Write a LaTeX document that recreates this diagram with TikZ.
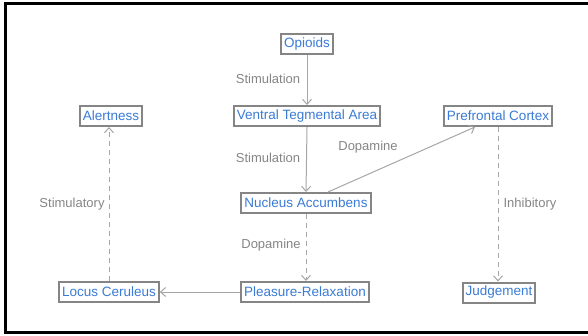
\documentclass[tikz,border=0pt]{standalone}
\usepackage{fontspec}
\setmainfont{Liberation Sans}
\usetikzlibrary{arrows.meta,calc}
\definecolor{nodeblue}{HTML}{3A7BD5}
\definecolor{boxgray}{HTML}{858585}
\definecolor{edgegray}{HTML}{A6A6A6}
\definecolor{labelgray}{HTML}{858585}
\tikzset{
  concept/.style={draw=boxgray, line width=2pt, fill=white, text=nodeblue,
    font=\fontsize{13.5}{15}\selectfont, inner xsep=3pt, inner ysep=2pt,
    minimum height=20pt},
  link/.style={draw=edgegray, line width=1pt, -{Straight Barb[length=5pt,width=9pt]}},
  dlink/.style={link, dash pattern=on 5pt off 4pt},
  lbl/.style={text=labelgray, font=\fontsize{13}{15}\selectfont, inner sep=0pt}
}
\begin{document}
\begin{tikzpicture}[x=1pt,y=-1pt]
\useasboundingbox (0,0) rectangle (588,335);
\begin{scope}
\clip (0,0) rectangle (588,335);
\draw[line width=3pt, black] (5.5,3) rectangle (600,332.5);
\end{scope}
\node[concept] (op) at (307,44) {Opioids};
\node[concept] (vta) at (307,116) {Ventral Tegmental Area};
\node[concept] (al) at (111,116) {Alertness};
\node[concept] (pc) at (498,116) {Prefrontal Cortex};
\node[concept] (na) at (306,203) {Nucleus Accumbens};
\node[concept] (pr) at (305,292) {Pleasure-Relaxation};
\node[concept] (lc) at (109,292) {Locus Ceruleus};
\node[concept] (ju) at (499,292.5) {Judgement};

\draw[link] (op.south) -- (vta.north);
\draw[link] (vta.south) -- (na.north);
\draw[link] ([xshift=22pt]na.north) -- ([xshift=-23pt]pc.south);
\draw[dlink] (na.south) -- (na.south |- pr.north);
\draw[dlink] (pc.south) -- (pc.south |- ju.north);
\draw[link] (pr.west) -- (lc.east);
\draw[dlink] (lc.north) -- (lc.north |- al.south);

\node[lbl] (l1) at (268,79) {Stimulation};
\node[lbl] (l2) at (268,158) {Stimulation};
\node[lbl] (l3) at (368,147) {Dopamine};
\node[lbl] (l4) at (271,245) {Dopamine};
\node[lbl] (l5) at (72,204) {Stimulatory};
\node[lbl] (l6) at (530,204) {Inhibitory};
\end{tikzpicture}
\end{document}
